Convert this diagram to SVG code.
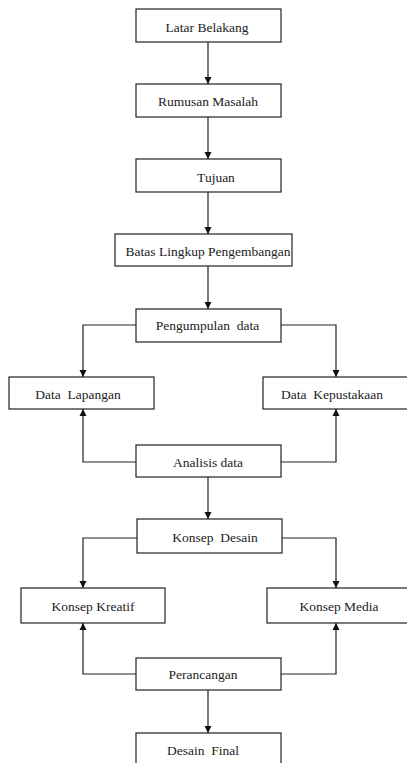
<svg xmlns="http://www.w3.org/2000/svg" width="407" height="763" viewBox="0 0 407 763">
<style>
.box{fill:#fff;stroke:#222;stroke-width:1.2}
.t{font-family:"Liberation Serif","Times New Roman",serif;font-size:13.5px;fill:#222;text-anchor:middle}
.c{fill:none;stroke:#222;stroke-width:1.2}
</style>
<defs>
<marker id="ah" viewBox="0 0 10 10" refX="10" refY="5" markerWidth="7" markerHeight="8" markerUnits="userSpaceOnUse" orient="auto">
<path d="M0,0 L10,5 L0,10 z" fill="#111"/>
</marker>
</defs>
<rect width="407" height="763" fill="#fff"/>
<g id="connectors">
<path class="c" d="M208,42 V84" marker-end="url(#ah)"/>
<path class="c" d="M208,117 V159" marker-end="url(#ah)"/>
<path class="c" d="M208,192 V234" marker-end="url(#ah)"/>
<path class="c" d="M208,266 V309" marker-end="url(#ah)"/>
<path class="c" d="M136,325 H83 V377" marker-end="url(#ah)"/>
<path class="c" d="M281,325 H336 V377" marker-end="url(#ah)"/>
<path class="c" d="M136,462 H83 V409" marker-end="url(#ah)"/>
<path class="c" d="M281,462 H336 V409" marker-end="url(#ah)"/>
<path class="c" d="M208,477 V519" marker-end="url(#ah)"/>
<path class="c" d="M137,538 H83 V588" marker-end="url(#ah)"/>
<path class="c" d="M282,538 H336 V588" marker-end="url(#ah)"/>
<path class="c" d="M136,674 H83 V623" marker-end="url(#ah)"/>
<path class="c" d="M281,674 H336 V623" marker-end="url(#ah)"/>
<path class="c" d="M208,690 V733" marker-end="url(#ah)"/>
</g>
<g id="latar"><rect class="box" x="136" y="9" width="145" height="33"/><text class="t" x="207" y="32">Latar Belakang</text></g>
<g id="rumusan"><rect class="box" x="136" y="84" width="145" height="33"/><text class="t" x="208" y="106">Rumusan Masalah</text></g>
<g id="tujuan"><rect class="box" x="136" y="159" width="145" height="33"/><text class="t" x="216" y="182">Tujuan</text></g>
<g id="batas"><rect class="box" x="115" y="234" width="177" height="32"/><text class="t" x="208" y="256">Batas Lingkup Pengembangan</text></g>
<g id="pengumpulan"><rect class="box" x="136" y="309" width="145" height="33"/><text class="t" x="207.5" y="330" xml:space="preserve">Pengumpulan  data</text></g>
<g id="lapangan"><rect class="box" x="9" y="377" width="145" height="32"/><text class="t" x="78" y="399" xml:space="preserve">Data  Lapangan</text></g>
<g id="kepustakaan"><rect class="box" x="263" y="377" width="147" height="32"/><text class="t" x="332" y="399" xml:space="preserve">Data  Kepustakaan</text></g>
<g id="analisis"><rect class="box" x="136" y="445" width="145" height="32"/><text class="t" x="208" y="467">Analisis data</text></g>
<g id="konsepdesain"><rect class="box" x="137" y="519" width="145" height="34"/><text class="t" x="215" y="542" xml:space="preserve">Konsep  Desain</text></g>
<g id="kreatif"><rect class="box" x="21" y="588" width="144" height="35"/><text class="t" x="93" y="611">Konsep Kreatif</text></g>
<g id="media"><rect class="box" x="267" y="588" width="145" height="35"/><text class="t" x="339" y="611">Konsep Media</text></g>
<g id="perancangan"><rect class="box" x="136" y="658" width="145" height="32"/><text class="t" x="203" y="679">Perancangan</text></g>
<g id="desainfinal"><rect class="box" x="136" y="733" width="145" height="40"/><text class="t" x="203" y="755" xml:space="preserve">Desain  Final</text></g>
</svg>
